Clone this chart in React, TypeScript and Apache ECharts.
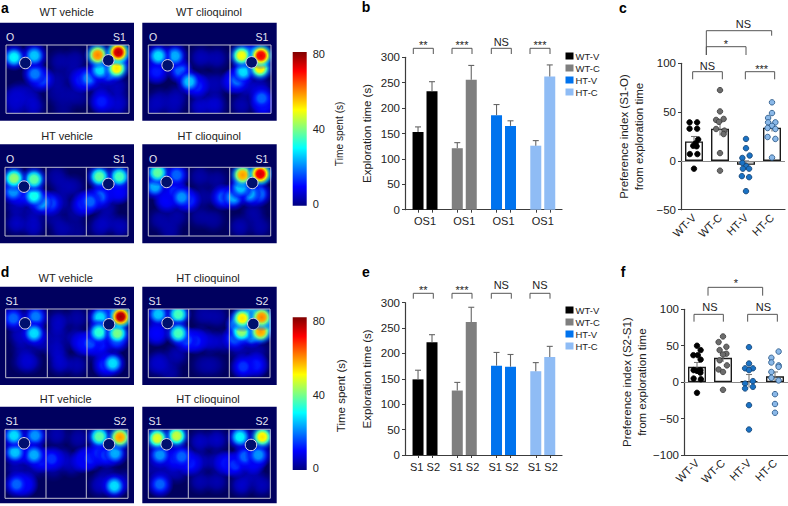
import React, { useEffect, useRef } from "react";
import * as echarts from "echarts";

// ---- exploration time bars ----
const groupNames = ["WT-V", "WT-C", "HT-V", "HT-C"];
const groupColors = ["#000000", "#7f7f7f", "#0073ee", "#8fbcf5"];
const explorationB = [[153, 233], [121, 256], [186, 165], [126, 262]];
const explorationBTop = [[163, 252], [132, 284], [207, 175], [136, 285]];
const explorationE = [[149, 222], [127, 262], [176, 174], [165, 193]];
const explorationETop = [[167, 237], [143, 291], [202, 198], [182, 214]];

// ---- preference index ----
const prefC = [20, 33, -4, 34];
const prefCErr = [5, 7, 4, 4];
const prefF = [21, 33.5, 1.5, 8];
const prefFErr = [6, 6, 9, 6];
const dotsC = [
  [[-0.17, 39.5], [0.12, 39.5], [-0.17, 33], [0.12, 33], [0.16, 22], [0.06, 18], [-0.03, 15.5], [0.1, 15], [-0.16, 7], [0.13, 7], [0, -8]],
  [[0, 72.5], [0, 50.7], [-0.15, 42], [0.14, 43], [-0.04, 40], [-0.15, 32.7], [0.17, 31], [0.14, 27.5], [0, 8], [0, -10]],
  [[0, 22.5], [0, 13], [-0.14, 3], [0.14, 5.5], [-0.14, -2], [0.01, -5.4], [-0.12, -8], [0.12, -8], [-0.16, -15.6], [0.12, -16.7], [0, -31]],
  [[0, 60], [0, 49], [-0.15, 44], [-0.15, 39.5], [0.13, 39.5], [0, 36], [-0.17, 33.7], [0.13, 32.7], [-0.17, 24.5], [0.13, 22.5], [0, 3.4]],
];
const dotsF = [
  [[0, 50], [-0.14, 37], [0.03, 37], [0.14, 44], [0.14, 31], [0.13, 16.5], [-0.13, 16.5], [0, 15.5], [0.13, 13], [-0.13, 5], [0.15, 4], [0, -14.6]],
  [[0, 62.7], [-0.17, 55], [0.13, 48.5], [-0.13, 44], [0.13, 39], [0, 38], [-0.13, 30], [0.15, 23], [-0.17, 17.4], [0, 14], [0, -10.5]],
  [[0, 48], [0, 25.6], [-0.15, 19], [0.15, 19], [0, 16.5], [0.15, 1.4], [-0.15, -2], [0.15, -6.4], [-0.15, -8.7], [0, -31.6], [0, -65]],
  [[0.14, 42], [-0.14, 33.4], [-0.14, 27], [0.14, 23], [0.14, 21], [-0.14, 14], [-0.14, 6], [0.14, 2.3], [0, -16.5], [0, -30], [0, -42]],
];

// ---- heat-map hot spots: [x, y, time spent] ----
const spotsA1 = [[24,37,30],[85,32,26],[87,87,20],[107,103,17],[32,165,7],[82,183,9],[42,145,6],[72,145,6],[22,155,6],[27,190,6],[162,50,5],[207,45,5],[152,105,5],[202,85,5],[187,145,4],[152,145,4],[217,155,4],[172,185,3],[275,30,60],[337,22,76],[332,70,52],[282,75,28],[334,45,30],[307,82,25],[247,100,20],[227,105,14],[287,170,12],[337,170,8],[282,125,7],[332,125,7],[327,190,5]];
const spotsA2 = [[30,33,28],[80,33,24],[25,80,12],[95,77,18],[123,110,26],[145,123,14],[35,165,6],[85,155,6],[15,185,6],[75,185,6],[158,37,7],[205,40,6],[165,115,6],[205,115,6],[155,183,9],[200,183,9],[195,155,3],[280,32,50],[338,32,72],[335,70,52],[285,80,28],[310,30,25],[267,105,20],[255,110,13],[340,160,18],[295,125,8],[335,130,8],[280,180,6],[345,180,12]];
const spotsA3 = [[27,33,42],[87,36,38],[25,73,22],[87,86,32],[50,81,14],[110,106,24],[135,108,18],[35,168,8],[85,178,8],[35,118,6],[85,138,6],[155,28,5],[165,103,6],[205,58,5],[175,58,5],[170,183,6],[145,148,4],[210,138,4],[215,188,3],[283,28,38],[343,28,36],[285,88,18],[255,103,18],[235,110,14],[305,68,10],[340,73,10],[305,158,5],[285,178,7],[345,178,7],[305,118,5]];
const spotsA4 = [[28,16,38],[85,23,18],[20,58,24],[80,73,14],[55,98,10],[100,90,22],[120,98,16],[35,158,5],[85,148,5],[65,188,5],[155,28,5],[205,38,4],[165,88,4],[215,88,6],[155,148,4],[195,158,4],[283,23,58],[336,20,74],[277,61,26],[305,80,24],[330,80,22],[255,90,24],[225,90,18],[315,138,5],[275,178,6],[335,178,5]];
const spotsD1 = [[23,28,18],[90,23,20],[85,73,28],[43,78,8],[53,118,5],[103,98,8],[73,158,8],[53,158,6],[158,38,8],[213,28,5],[153,123,8],[208,88,7],[163,163,9],[213,168,6],[153,78,6],[283,25,28],[345,23,78],[280,70,34],[335,73,40],[308,8,18],[253,103,16],[233,103,12],[283,108,12],[333,93,18],[321,163,28],[298,168,14],[273,128,5]];
const spotsD2 = [[30,16,26],[90,16,36],[90,73,36],[25,73,10],[115,93,16],[140,96,14],[35,158,7],[85,138,6],[25,168,6],[65,188,5],[165,18,5],[205,23,5],[185,98,9],[155,88,8],[225,98,7],[195,168,4],[165,168,4],[282,28,52],[340,25,60],[337,68,58],[280,68,42],[310,13,34],[355,48,34],[270,48,34],[310,78,28],[260,88,18],[285,173,14],[323,168,12],[275,118,6],[325,128,5]];
const spotsD3 = [[27,19,28],[90,19,22],[30,69,26],[87,77,24],[60,67,10],[110,92,14],[140,89,14],[35,165,18],[60,165,10],[85,117,5],[35,117,6],[155,17,6],[220,27,5],[170,87,8],[200,107,6],[145,117,4],[283,22,38],[345,24,58],[330,72,24],[285,72,16],[305,77,16],[255,87,13],[235,92,10],[328,170,28],[285,167,8],[305,137,4],[355,157,6]];
const spotsD4 = [[27,27,48],[85,20,46],[35,77,22],[80,87,14],[100,82,18],[125,102,12],[35,165,18],[85,127,6],[55,117,6],[15,117,5],[155,37,8],[205,32,8],[155,97,7],[205,97,7],[155,157,6],[205,157,6],[275,23,30],[342,23,52],[330,77,22],[290,82,18],[260,107,14],[235,102,12],[315,97,10],[280,167,9],[340,167,7],[310,132,6]];
const objectsA1 = [[58,54],[307,46]];
const objectsA2 = [[58,61],[310,52]];
const objectsA3 = [[57,58],[310,50]];
const objectsA4 = [[55,44],[312,47]];
const objectsD1 = [[58,43],[310,46]];
const objectsD2 = [[58,42],[315,45]];
const objectsD3 = [[57,42],[312,45]];
const objectsD4 = [[55,45],[308,47]];

const FONT = "Liberation Sans";
const TEXT = "#222222";
const AXIS = "#3c3c3c";
const NAVY = "#00005f";

function jet(v: number, alpha = 1) {
  const t = Math.max(0, Math.min(1, v / 80));
  const ch = (d: number) => Math.round(255 * Math.max(0, Math.min(1, 1.5 - Math.abs(4 * t - d))));
  return `rgba(${ch(3)},${ch(2)},${ch(1)},${alpha})`;
}

function spotColor(v: number) {
  const floor = Math.min(v, 9);
  const stops = [
    { offset: 0, color: jet(v, v < 10 ? 0.75 : 1) },
    { offset: 0.26, color: jet(v * 0.95, v < 10 ? 0.7 : 1) },
    { offset: 0.46, color: jet(Math.max(v * 0.68, floor), v < 10 ? 0.55 : 0.97) },
    { offset: 0.7, color: jet(Math.max(v * 0.36, floor), v < 10 ? 0.25 : 0.62) },
    { offset: 1, color: jet(floor, 0) },
  ];
  return { type: "radial", x: 0.5, y: 0.5, r: 0.5, colorStops: stops };
}

function buildOption() {
  const grid: any[] = [];
  const xAxis: any[] = [];
  const yAxis: any[] = [];
  const series: any[] = [];
  const graphic: any[] = [];

  const text = (t: string, x: number, y: number, size: number, extra: any = {}) =>
    graphic.push({
      type: "text", x, y, z: 20,
      style: { text: t, font: `${extra.weight || "normal"} ${size}px "${FONT}"`, fill: extra.fill || TEXT, align: "center", verticalAlign: "middle" },
    });
  const bracket = (pts: number[][], color = "#555555") =>
    graphic.push({ type: "polyline", z: 20, shape: { points: pts }, style: { stroke: color, lineWidth: 1, fill: "none" } });

  // heat panels: the grid is the arena, so that the spots are clipped to it
  const heat = (title: string, tx: number, ty: number, px: number[], arena: number[], dv: number[], spots: number[][], objs: number[][], lbl: string[], lx: number[], ly: number) => {
    const g = grid.length;
    graphic.push({ type: "rect", z: 0, shape: { x: px[0], y: px[1], width: px[2] - px[0], height: px[3] - px[1] }, style: { fill: NAVY } });
    grid.push({ left: arena[0], top: arena[1], width: arena[2] - arena[0], height: arena[3] - arena[1] });
    xAxis.push({ type: "value", gridIndex: g, min: 0, max: (arena[2] - arena[0]) * 3, show: false });
    yAxis.push({ type: "value", gridIndex: g, inverse: true, min: 0, max: (arena[3] - arena[1]) * 3, show: false });
    const sorted = [...spots].sort((a, b) => a[2] - b[2]);
    series.push({
      type: "custom", xAxisIndex: xAxis.length - 1, yAxisIndex: yAxis.length - 1, silent: true, clip: true, z: 2,
      data: sorted, encode: { x: 0, y: 1 },
      renderItem: (_: any, api: any) => {
        const c = api.coord([api.value(0), api.value(1)]);
        return { type: "circle", shape: { cx: c[0], cy: c[1], r: 14 }, style: { fill: spotColor(api.value(2)) } };
      },
    });
    series.push({
      type: "scatter", xAxisIndex: xAxis.length - 1, yAxisIndex: yAxis.length - 1, symbolSize: 11.5, silent: true, z: 3,
      data: objs, itemStyle: { color: "#00106e", borderColor: "#dcdcec", borderWidth: 1, opacity: 1 },
    });
    graphic.push({ type: "rect", z: 15, shape: { x: arena[0], y: arena[1], width: arena[2] - arena[0], height: arena[3] - arena[1] }, style: { fill: "none", stroke: "#bdbdcf", lineWidth: 1 } });
    dv.forEach((d) => graphic.push({ type: "line", z: 15, shape: { x1: d, y1: arena[1], x2: d, y2: arena[3] }, style: { stroke: "#bdbdcf", lineWidth: 1 } }));
    text(title, tx, ty, 11);
    text(lbl[0], lx[0], ly, 10.5, { fill: "#e6e6f2" });
    text(lbl[1], lx[1], ly, 10.5, { fill: "#e6e6f2" });
  };

  heat("WT vehicle", 66.7, 12, [0, 22.7, 134, 120.7], [6, 45, 129, 113.3], [47, 87], spotsA1, objectsA1, ["O", "S1"], [10, 119.5], 36.7);
  heat("WT clioquinol", 209, 12, [142.3, 22.7, 276.7, 120.7], [148.3, 45, 271, 113.3], [189, 230], spotsA2, objectsA2, ["O", "S1"], [153, 262], 36.7);
  heat("HT vehicle", 67, 135.7, [0, 144.3, 134, 243.3], [5, 167.3, 128, 236], [46, 86.3], spotsA3, objectsA3, ["O", "S1"], [10, 119.5], 158.7);
  heat("HT clioquinol", 209.3, 135.7, [142.3, 144.3, 276.7, 243.3], [148.3, 167.3, 270.7, 236], [189, 229.7], spotsA4, objectsA4, ["O", "S1"], [153, 262], 158.7);
  heat("WT vehicle", 65.7, 278.3, [0, 286.7, 134, 385], [5.7, 309, 129, 377.7], [47.3, 87], spotsD1, objectsD1, ["S1", "S2"], [12, 120], 300.7);
  heat("HT clioquinol", 208, 278.3, [142.3, 286.7, 276.7, 385], [148.3, 309, 270, 377.7], [188.7, 229.3], spotsD2, objectsD2, ["S1", "S2"], [155, 262], 300.7);
  heat("HT vehicle", 65.7, 398.7, [0, 406.7, 134, 503.3], [5, 429.3, 128, 498.3], [46, 86.3], spotsD3, objectsD3, ["S1", "S2"], [12, 120], 420.7);
  heat("HT clioquinol", 208, 398.7, [142.3, 406.7, 276.7, 503.3], [148.3, 429.3, 270.3, 498.3], [188.3, 229], spotsD4, objectsD4, ["S1", "S2"], [155, 262], 420.7);

  // colour bars
  const jetStops = Array.from({ length: 17 }, (_, i) => ({ offset: i / 16, color: jet((i / 16) * 80) }));
  const colorBar = (top: number, bottom: number, yMin: number, yMax: number, nameSize: number, namePad: number) => {
    const g = grid.length;
    grid.push({ left: 292.7, top, width: 14, height: bottom - top });
    xAxis.push({ type: "value", gridIndex: g, min: 0, max: 1, show: false });
    yAxis.push({
      type: "value", gridIndex: g, position: "right", min: yMin, max: yMax, name: "Time spent (s)", nameLocation: "middle", nameRotate: 90, nameGap: 28,
      nameTextStyle: { fontFamily: FONT, fontSize: nameSize, color: TEXT, padding: [0, namePad, 0, 0] },
      axisLine: { show: false, onZero: false }, axisTick: { show: false }, splitLine: { show: false },
      axisLabel: { customValues: [0, 40, 80], margin: 6, fontFamily: FONT, fontSize: 11, color: TEXT },
    });
    series.push({
      type: "custom", xAxisIndex: xAxis.length - 1, yAxisIndex: yAxis.length - 1, silent: true,
      data: [[0, 1, yMin, yMax]], encode: { x: [0, 1], y: [2, 3] },
      renderItem: (_: any, api: any) => {
        const a = api.coord([api.value(0), api.value(3)]);
        const b = api.coord([api.value(1), api.value(2)]);
        return { type: "rect", shape: { x: a[0], y: a[1], width: b[0] - a[0], height: b[1] - a[1] }, style: { fill: { type: "linear", x: 0, y: 1, x2: 0, y2: 0, colorStops: jetStops } } };
      },
    });
  };
  colorBar(52, 205.7, -0.9, 81, 10.2, 10);
  colorBar(317.3, 470, -0.9, 82, 11.5, 4);

  // error-bar helper
  const errorBars = (xi: number, yi: number, data: number[][], color: string, capPx: number) => ({
    type: "custom", xAxisIndex: xi, yAxisIndex: yi, silent: true, z: 4, data,
    encode: { x: 0, y: [1, 2] },
    renderItem: (_: any, api: any) => {
      const a = api.coord([api.value(0), api.value(1)]);
      const b = api.coord([api.value(0), api.value(2)]);
      const st = { stroke: color, lineWidth: 1.1 };
      return {
        type: "group",
        children: [
          { type: "line", shape: { x1: a[0], y1: a[1], x2: b[0], y2: b[1] }, style: st },
          { type: "line", shape: { x1: b[0] - capPx, y1: b[1], x2: b[0] + capPx, y2: b[1] }, style: st },
        ],
      };
    },
  });

  // exploration panels
  const OFF = 0.178;
  const tickVals = groupNames.flatMap((_, g) => [g - OFF, g + OFF]);
  const explore = (top: number, bottom: number, vals: number[][], tops: number[][], label: string) => {
    const g = grid.length;
    grid.push({ left: 405, top, width: 157, height: bottom - top });
    xAxis.push({
      type: "value", gridIndex: g, min: -0.51, max: 3.49,
      splitLine: { show: false },
      axisLine: { lineStyle: { color: AXIS, width: 1.2 } },
      axisTick: { customValues: tickVals, length: 3, lineStyle: { color: AXIS } },
      axisLabel: { customValues: [0, 1, 2, 3], formatter: () => label, margin: 6, fontFamily: FONT, fontSize: 11, color: TEXT },
    });
    yAxis.push({
      type: "value", gridIndex: g, min: 0, max: 300, interval: 50,
      name: "Exploration time (s)", nameLocation: "middle", nameGap: 32,
      nameTextStyle: { fontFamily: FONT, fontSize: 11.5, color: TEXT },
      splitLine: { show: false },
      axisLine: { show: true, onZero: false, lineStyle: { color: AXIS, width: 1.2 } },
      axisTick: { show: true, length: 3, lineStyle: { color: AXIS } },
      axisLabel: { margin: 5, fontFamily: FONT, fontSize: 11.5, color: TEXT },
    });
    const xi = xAxis.length - 1, yi = yAxis.length - 1;
    groupNames.forEach((name, i) => {
      series.push({
        type: "bar", name, xAxisIndex: xi, yAxisIndex: yi, barWidth: 11, barGap: "-100%", silent: true, z: 3,
        itemStyle: { color: groupColors[i] },
        data: vals[i].map((v, k) => [i + (k ? OFF : -OFF), v]),
      });
    });
    series.push(errorBars(xi, yi, vals.flatMap((p, i) => p.map((v, k) => [i + (k ? OFF : -OFF), v, tops[i][k]])), "#666666", 3));
  };
  explore(57.3, 209.7, explorationB, explorationBTop, "OS1");
  explore(302.7, 455, explorationE, explorationETop, "S1 S2");

  // preference panels
  const dotFill = ["#000000", "#6c6c6c", "#1a72c4", "#8ab8e8"];
  const dotLine = ["#000000", "#3a3a3a", "#14406e", "#1f4f80"];
  const pref = (left: number, top: number, bottom: number, yMin: number, yMax: number, name: string, vals: number[], errs: number[], dots: number[][][]) => {
    const g = grid.length;
    grid.push({ left, top, width: 104, height: bottom - top });
    xAxis.push({
      type: "category", gridIndex: g, data: groupNames, position: "bottom",
      axisLine: { onZero: false, lineStyle: { color: AXIS, width: 1.2 } },
      axisTick: { alignWithLabel: true, length: 3, lineStyle: { color: AXIS } },
      axisLabel: { rotate: 45, margin: 6, interval: 0, fontFamily: FONT, fontSize: 11, color: TEXT },
    });
    const xCat = xAxis.length - 1;
    xAxis.push({ type: "value", gridIndex: g, min: -0.5, max: 3.5, show: false });
    const xVal = xAxis.length - 1;
    yAxis.push({
      type: "value", gridIndex: g, min: yMin, max: yMax, interval: 50,
      name, nameLocation: "middle", nameGap: 35,
      nameTextStyle: { fontFamily: FONT, fontSize: 11.5, color: TEXT, lineHeight: 15 },
      splitLine: { show: false },
      axisLine: { show: true, onZero: false, lineStyle: { color: AXIS, width: 1.2 } },
      axisTick: { show: true, length: 3, lineStyle: { color: AXIS } },
      axisLabel: { margin: 5, fontFamily: FONT, fontSize: 11.5, color: TEXT, formatter: (v: number) => String(v).replace("-", "\u2212") },
    });
    const yi = yAxis.length - 1;
    series.push({
      type: "bar", xAxisIndex: xCat, yAxisIndex: yi, barWidth: 18, silent: true, z: 2,
      itemStyle: { color: "#ffffff", borderColor: "#1a1a1a", borderWidth: 1.4 }, data: vals,
      markLine: { silent: true, symbol: "none", animation: false, label: { show: false }, lineStyle: { color: "#8a8a8a", width: 1, type: "solid" }, data: [{ yAxis: 0 }] },
    });
    series.push(errorBars(xVal, yi, vals.flatMap((v, i) => [[i, v - errs[i], v + errs[i]]]), "#777777", 3));
    dots.forEach((pts, i) => {
      series.push({
        type: "scatter", xAxisIndex: xVal, yAxisIndex: yi, symbolSize: 5.5, silent: true, z: 5,
        itemStyle: { color: dotFill[i], borderColor: dotLine[i], borderWidth: 0.8, opacity: 1 },
        data: pts.map((p) => [i + p[0], p[1]]),
      });
    });
  };
  pref(681, 63.3, 209.7, -50, 100, "Preference index (S1-O)\nfrom exploration time", prefC, prefCErr, dotsC);
  pref(684, 309.3, 455, -100, 100, "Preference index (S2-S1)\nfrom exploration time", prefF, prefFErr, dotsF);

  // brackets and significance marks
  const bx = [[413.3, 433.3], [452, 472], [491.3, 511.3], [530, 550]];
  const marksB = ["**", "***", "NS", "***"];
  const marksE = ["**", "***", "NS", "NS"];
  bx.forEach((b, i) => {
    bracket([[b[0], 54], [b[0], 48.3], [b[1], 48.3], [b[1], 54]]);
    bracket([[b[0], 298.7], [b[0], 293.3], [b[1], 293.3], [b[1], 298.7]]);
    const mid = (b[0] + b[1]) / 2;
    text(marksB[i], mid, marksB[i] === "NS" ? 41.7 : 44.5, 11);
    text(marksE[i], mid, marksE[i] === "NS" ? 285 : 289.5, 11);
  });
  const cx = (z: number) => 590 + z / 3;
  const fy = (z: number) => 255 + z / 3;
  bracket([[cx(349), 55], [cx(349), 30.7], [cx(545), 30.7], [cx(545), 35.7]]);
  bracket([[cx(349), 55], [cx(349), 46.7], [cx(468), 46.7], [cx(468), 55]]);
  bracket([[cx(308), 79.3], [cx(308), 71.7], [cx(397), 71.7], [cx(397), 79.3]]);
  bracket([[cx(466), 79.3], [cx(466), 71.7], [cx(554), 71.7], [cx(554), 79.3]]);
  text("NS", cx(460), 24, 11);
  text("*", cx(408), 43.5, 11);
  text("NS", cx(352), 65.7, 11);
  text("***", cx(515), 69, 11);
  bracket([[cx(354), fy(122)], [cx(354), fy(97)], [cx(518), fy(97)], [cx(518), fy(122)]]);
  bracket([[cx(312), fy(200)], [cx(312), fy(178)], [cx(400), fy(178)], [cx(400), fy(200)]]);
  bracket([[cx(473), fy(200)], [cx(473), fy(178)], [cx(562), fy(178)], [cx(562), fy(200)]]);
  text("*", cx(438), fy(85), 11);
  text("NS", cx(360), fy(156), 11);
  text("NS", cx(520), fy(156), 11);

  // panel letters
  const letters: [string, number, number][] = [["a", 5, 8], ["b", 366, 7], ["c", 623, 8], ["d", 5, 272], ["e", 366, 272], ["f", 623, 272]];
  letters.forEach(([l, x, y]) => text(l, x, y, 14, { weight: "bold", fill: "#000000" }));

  const legendBase = {
    orient: "vertical", left: 565.5, itemWidth: 8, itemHeight: 7, itemGap: 2, icon: "rect", selectedMode: false, data: groupNames,
    padding: 0, textStyle: { fontFamily: FONT, fontSize: 9.5, color: TEXT, padding: [0, 0, 0, -3] },
  };

  return {
    animation: false,
    backgroundColor: "#ffffff",
    textStyle: { fontFamily: FONT },
    legend: [{ ...legendBase, top: 51 }, { ...legendBase, top: 305 }],
    grid, xAxis, yAxis, series, graphic,
  };
}

export default function App() {
  const ref = useRef<HTMLDivElement>(null);
  useEffect(() => {
    document.body.style.margin = "0";
    const chart = echarts.init(ref.current!, undefined, { renderer: "svg" });
    chart.setOption(buildOption() as any);
    return () => chart.dispose();
  }, []);
  return <div ref={ref} style={{ position: "absolute", left: 0, top: 0, width: 788, height: 506 }} />;
}
